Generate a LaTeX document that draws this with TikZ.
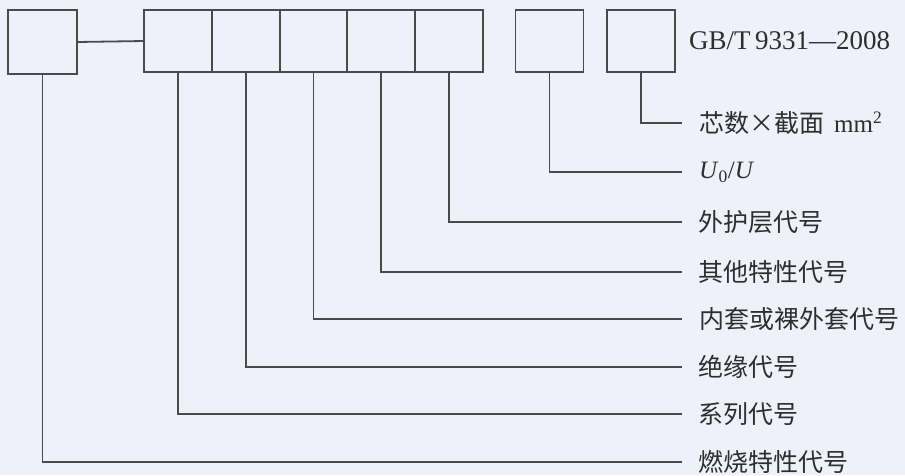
\documentclass[tikz,border=0pt]{standalone}
\usepackage{fontspec}
\setmainfont{Liberation Serif}
\newfontfamily\cjk{Noto Sans CJK SC}
\definecolor{bgc}{HTML}{EEF1F9}
\definecolor{linec}{HTML}{4A4A4A}
\definecolor{txtc}{HTML}{2E2E2E}
\begin{document}
\begin{tikzpicture}[x=1pt,y=-1pt,
  box/.style={draw=linec, line width=1.8pt, minimum width=68pt, minimum height=62pt, inner sep=0pt, outer sep=0pt},
  lab/.style={anchor=west, inner sep=0pt, text=txtc, font=\cjk\fontsize{25}{25}\selectfont},
  conn/.style={draw=linec, line width=1.8pt}]
\fill[bgc] (0,0) rectangle (905,475);
\useasboundingbox (0,0) rectangle (905,475);
% boxes
\node[box, minimum width=69pt, minimum height=64pt] (b0) at (42.5,42) {};
\node[box] (g1) at (177.9,41) {};
\node[box] (g2) at (245.7,41) {};
\node[box] (g3) at (313.5,41) {};
\node[box] (g4) at (381.3,41) {};
\node[box] (g5) at (449.1,41) {};
\node[box] (b7) at (549.5,41) {};
\node[box] (b8) at (641,41) {};
\draw[conn] (b0.east) -- (g1.west);
% texts
\node[anchor=west, inner sep=0pt, text=txtc, font=\fontsize{27}{27}\selectfont] (std) at (689,41) {GB/T\,9331—2008};
\node[lab] (l8) at (699,123) {芯数×截面\hspace{0.4em}{\rmfamily mm\textsuperscript{2}}};
\node[lab, font=\fontsize{25}{25}\selectfont] (l7) at (699,172) {\textit{U}\textsubscript{0}/\textit{U}};
\node[lab] (l6) at (698,222) {外护层代号};
\node[lab] (l5) at (698,272) {其他特性代号};
\node[lab] (l4) at (699,319) {内套或裸外套代号};
\node[lab] (l3) at (698,367) {绝缘代号};
\node[lab] (l2) at (698,414) {系列代号};
\node[lab] (l1) at (698,462) {燃烧特性代号};
% connectors
\coordinate (e8) at (682,123);
\coordinate (e7) at (682,172);
\coordinate (e6) at (682,222);
\coordinate (e5) at (682,272);
\coordinate (e4) at (682,319);
\coordinate (e3) at (682,367);
\coordinate (e2) at (682,414);
\coordinate (e1) at (682,462);
\draw[conn] (b8.south) |- (e8);
\draw[conn] (b7.south) |- (e7);
\draw[conn] (g5.south) |- (e6);
\draw[conn] (g4.south) |- (e5);
\draw[conn] (g3.south) |- (e4);
\draw[conn] (g2.south) |- (e3);
\draw[conn] (g1.south) |- (e2);
\draw[conn] (b0.south) |- (e1);
\end{tikzpicture}
\end{document}
